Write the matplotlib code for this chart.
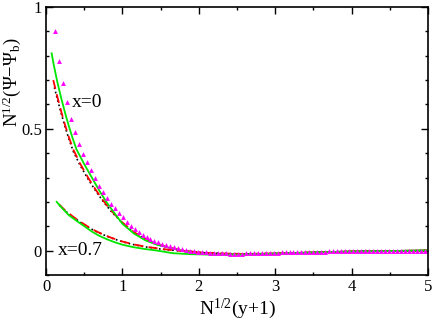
import numpy as np
import matplotlib
matplotlib.use("Agg")
import matplotlib.pyplot as plt
from matplotlib.ticker import MultipleLocator

plt.rcParams["font.family"] = ["Liberation Serif", "DejaVu Serif"]
plt.rcParams["mathtext.fontset"] = "custom"
plt.rcParams["mathtext.rm"] = "Liberation Serif"
plt.rcParams["mathtext.it"] = "Liberation Serif"

# --- x=0 : triangles (simulation) ---
tri_x = 0.12 + 0.052 * np.arange(94)
tri_y = [0.90, 0.78, 0.69, 0.61, 0.54, 0.485, 0.438, 0.398, 0.362, 0.330,
         0.298, 0.265, 0.240, 0.216, 0.193, 0.173, 0.155, 0.137, 0.118, 0.102,
         0.089, 0.076, 0.065, 0.055, 0.047, 0.040, 0.034, 0.028, 0.022, 0.017,
         0.013, 0.009, 0.005, 0.002, -0.001, -0.003, -0.005, -0.007, -0.008, -0.009,
         -0.010, -0.011, -0.012, -0.012, -0.013, -0.013, -0.013, -0.013, -0.012, -0.012,
         -0.012, -0.011, -0.011, -0.010, -0.010, -0.009, -0.009, -0.008, -0.008, -0.007,
         -0.007, -0.006, -0.006, -0.005, -0.005, -0.005, -0.004, -0.004, -0.004, -0.003,
         -0.003, -0.003, -0.002, -0.002, -0.002, -0.002, -0.001, -0.001, -0.001, -0.001,
         -0.001, -0.001, -0.001, -0.001, 0.0, 0.0, 0.0, 0.0, 0.0, 0.0,
         0.0, 0.0, 0.0, 0.0]

# --- x=0 : lines ---
g0_x = [0.074, 0.10, 0.15, 0.20, 0.25, 0.30, 0.35, 0.40, 0.50, 0.60, 0.70, 0.80, 0.90,
        1.00, 1.15, 1.30, 1.45, 1.60, 1.80, 2.00, 2.20, 2.40, 2.70, 3.00, 3.50, 4.00, 4.50, 5.00]
g0_y = [0.81, 0.765, 0.69, 0.625, 0.565, 0.51, 0.46, 0.415, 0.355, 0.30, 0.245, 0.195, 0.152,
        0.11, 0.07, 0.042, 0.024, 0.012, -0.002, -0.011, -0.016, -0.017, -0.016, -0.013,
        -0.008, -0.004, -0.002, 0.0]

r0_x = [0.095, 0.15, 0.20, 0.25, 0.30, 0.36, 0.45, 0.55, 0.65, 0.75, 0.85, 1.0, 1.15, 1.3,
        1.45, 1.6, 1.8, 2.0, 2.2, 2.4, 2.7, 3.0, 3.5, 4.0, 4.5, 5.0]
r0_y = [0.70, 0.63, 0.57, 0.515, 0.465, 0.413, 0.355, 0.30, 0.25, 0.205, 0.165, 0.115, 0.076,
        0.047, 0.027, 0.013, 0.0, -0.008, -0.013, -0.015, -0.015, -0.012, -0.008, -0.004,
        -0.002, 0.0]

k0_x = [0.11, 0.15, 0.20, 0.25, 0.30, 0.36, 0.45, 0.55, 0.65, 0.75, 0.85, 1.0, 1.15, 1.3,
        1.45, 1.6, 1.8, 2.0, 2.2, 2.4, 2.7, 3.0, 3.5, 4.0, 4.5, 5.0]
k0_y = [0.67, 0.62, 0.562, 0.508, 0.458, 0.405, 0.348, 0.294, 0.245, 0.201, 0.162, 0.113,
        0.075, 0.046, 0.026, 0.012, 0.0, -0.008, -0.013, -0.015, -0.015, -0.012, -0.008,
        -0.004, -0.002, 0.0]

# --- x=0.7 : lines ---
g7_x = [0.14, 0.2, 0.3, 0.4, 0.5, 0.6, 0.7, 0.8, 0.9, 1.0, 1.14, 1.3, 1.45, 1.66, 1.9,
        2.2, 2.5, 3.0, 3.5, 4.0, 4.5, 5.0]
g7_y = [0.20, 0.178, 0.145, 0.122, 0.10, 0.078, 0.06, 0.046, 0.034, 0.024, 0.014, 0.006,
        0.0, -0.011, -0.015, -0.017, -0.017, -0.013, -0.008, -0.004, -0.002, 0.0]

r7_x = [0.17, 0.25, 0.35, 0.45, 0.55, 0.65, 0.75, 0.85, 1.0, 1.15, 1.3, 1.5, 1.7, 2.0,
        2.3, 2.6, 3.0, 3.5, 4.0, 4.5, 5.0]
r7_y = [0.19, 0.165, 0.14, 0.118, 0.098, 0.08, 0.066, 0.053, 0.037, 0.025, 0.016, 0.007,
        0.0, -0.008, -0.012, -0.014, -0.012, -0.008, -0.004, -0.002, 0.0]

k7_x = [0.18, 0.25, 0.35, 0.45, 0.55, 0.65, 0.75, 0.85, 1.0, 1.15, 1.3, 1.5, 1.7, 2.0,
        2.3, 2.6, 3.0, 3.5, 4.0, 4.5, 5.0]
k7_y = [0.185, 0.163, 0.138, 0.116, 0.096, 0.079, 0.065, 0.052, 0.036, 0.024, 0.015, 0.006,
        0.0, -0.008, -0.012, -0.014, -0.012, -0.008, -0.004, -0.002, 0.0]

fig = plt.figure(figsize=(4.34, 3.23), dpi=100)
ax = fig.add_axes([0.106, 0.149, 0.880, 0.829])

green = "#00e600"
ax.plot(k0_x, k0_y, color="black", linestyle=":", linewidth=1.2)
ax.plot(r0_x, r0_y, color="red", linestyle=(0, (5, 3)), linewidth=1.3)
ax.plot(g0_x, g0_y, color=green, linestyle="-", linewidth=1.3)
ax.plot(k7_x, k7_y, color="black", linestyle=":", linewidth=1.2)
ax.plot(r7_x, r7_y, color="red", linestyle=(0, (5, 3)), linewidth=1.3)
ax.plot(g7_x, g7_y, color=green, linestyle="-", linewidth=1.3)
ax.plot(tri_x, tri_y, linestyle="none", marker="^", markersize=3.5,
        color="#ff00ff", markeredgewidth=0)

ax.text(0.34, 0.61, "x=0", fontsize=14, va="center", ha="left")
ax.text(0.155, 0.0, "x=0.7", fontsize=14, va="center", ha="left")

ax.set_xlim(0, 5)
ax.set_ylim(-0.1, 1.0)
ax.xaxis.set_major_locator(MultipleLocator(1))
ax.xaxis.set_minor_locator(MultipleLocator(0.5))
ax.yaxis.set_major_locator(MultipleLocator(0.5))
ax.yaxis.set_minor_locator(MultipleLocator(0.1))
ax.set_yticks([0, 0.5, 1])
ax.set_yticklabels(["0", "0.5", "1"])
ax.tick_params(which="both", direction="in", top=True, right=True, labelsize=12, pad=3)
ax.tick_params(which="major", length=5, width=1)
ax.tick_params(which="minor", length=2.5, width=1)
for s in ax.spines.values():
    s.set_linewidth(1.2)

ax.set_xlabel(r"N$^{1/2}$(y+1)", fontsize=14, labelpad=1)
ax.set_ylabel(r"N$^{1/2}$($\Psi$$-$$\Psi_{\rm b}$)", fontsize=13.5)
ax.yaxis.set_label_coords(-0.06, 0.72)

fig.savefig("out.png", dpi=100)
